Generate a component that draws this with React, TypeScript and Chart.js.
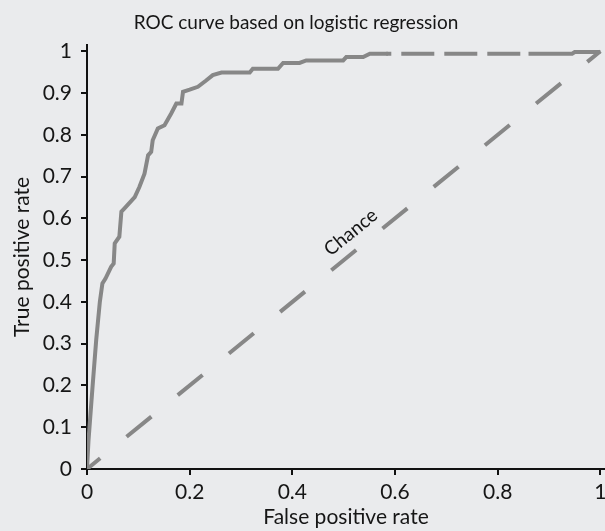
import React, { useEffect, useRef } from "react";
import { Chart, registerables } from "chart.js";

Chart.register(...registerables);

const TITLE = "ROC curve based on logistic regression";
const X_TITLE = "False positive rate";
const Y_TITLE = "True positive rate";
const CHANCE_LABEL = "Chance";

const X_TICKS = [0, 0.2, 0.4, 0.6, 0.8, 1];
const Y_TICKS = [0, 0.1, 0.2, 0.3, 0.4, 0.5, 0.6, 0.7, 0.8, 0.9, 1];

// ROC curve (solid part)
const ROC_FPR = [
  0, 0.003, 0.011, 0.018, 0.025, 0.03, 0.036, 0.047, 0.052, 0.054, 0.063, 0.067, 0.073,
  0.093, 0.102, 0.112, 0.119, 0.125, 0.128, 0.138, 0.151, 0.164, 0.174, 0.184, 0.187,
  0.2, 0.216, 0.232, 0.245, 0.262, 0.317, 0.323, 0.372, 0.382, 0.414, 0.427, 0.499,
  0.505, 0.538, 0.551, 0.586,
];
const ROC_TPR = [
  0, 0.07, 0.2, 0.31, 0.4, 0.444, 0.456, 0.484, 0.492, 0.54, 0.556, 0.616, 0.624,
  0.651, 0.675, 0.707, 0.751, 0.759, 0.787, 0.815, 0.823, 0.851, 0.875, 0.875, 0.903,
  0.908, 0.915, 0.93, 0.943, 0.949, 0.949, 0.958, 0.958, 0.972, 0.972, 0.978, 0.978,
  0.986, 0.986, 0.994, 0.994,
];

// dashed continuation at the top
const TOP_FPR = [0.583, 0.86];
const TOP_TPR = [0.994, 0.994];

// solid tail near (1,1)
const TAIL_FPR = [0.86, 0.945, 0.95, 1];
const TAIL_TPR = [0.994, 0.994, 0.998, 0.998];

// chance diagonal
const CHANCE_FPR = [0, 1];
const CHANCE_TPR = [0, 1];
const CHANCE_LABEL_AT = 0.5;

const GRAY = "#878787";
const TEXT = "#161616";
const FONT = "Lato";

const pts = (xs: number[], ys: number[]) => xs.map((x, i) => ({ x, y: ys[i] }));

const textPlugin = {
  id: "textPlugin",
  afterDraw(chart: any) {
    const xs = chart.scales.x;
    const ys = chart.scales.y;
    const ctx = chart.ctx;
    // title
    ctx.save();
    ctx.font = `19px ${FONT}`;
    ctx.fillStyle = TEXT;
    ctx.textAlign = "center";
    ctx.textBaseline = "alphabetic";
    ctx.fillText(TITLE, 296, 29);
    ctx.restore();
    // chance label
    const x0 = xs.getPixelForValue(0);
    const y0 = ys.getPixelForValue(0);
    const x1 = xs.getPixelForValue(1);
    const y1 = ys.getPixelForValue(1);
    const ang = Math.atan2(y1 - y0, x1 - x0);
    const px = xs.getPixelForValue(CHANCE_LABEL_AT);
    const py = ys.getPixelForValue(CHANCE_LABEL_AT);
    ctx.save();
    ctx.translate(px, py);
    ctx.rotate(ang);
    ctx.font = `19px ${FONT}`;
    ctx.fillStyle = TEXT;
    ctx.textAlign = "center";
    ctx.textBaseline = "middle";
    ctx.fillText(CHANCE_LABEL, 23, -17);
    ctx.restore();
  },
};

const fmt = (v: any) => String(v);

export default function App() {
  const ref = useRef<HTMLCanvasElement>(null);
  useEffect(() => {
    const canvas = ref.current!;
    const chart = new Chart(canvas, {
      type: "scatter",
      data: {
        datasets: [
          {
            data: pts(CHANCE_FPR, CHANCE_TPR),
            showLine: true,
            borderColor: GRAY,
            borderWidth: 4,
            borderDash: [32, 34],
            borderDashOffset: 15,
            pointRadius: 0,
          },
          {
            data: pts(TOP_FPR, TOP_TPR),
            showLine: true,
            borderColor: GRAY,
            borderWidth: 4,
            borderDash: [33, 10],
            borderDashOffset: 28,
            pointRadius: 0,
          },
          {
            data: pts(TAIL_FPR, TAIL_TPR),
            showLine: true,
            borderColor: GRAY,
            borderWidth: 4,
            pointRadius: 0,
          },
          {
            data: pts(ROC_FPR, ROC_TPR),
            showLine: true,
            borderColor: GRAY,
            borderWidth: 4,
            pointRadius: 0,
          },
        ],
      },
      options: {
        responsive: false,
        animation: false,
        layout: { padding: { top: 45, left: 0, right: 0, bottom: 0 } },
        plugins: {
          legend: { display: false },
          tooltip: { enabled: false },
          title: { display: false },
        },
        scales: {
          x: {
            type: "linear",
            min: 0,
            max: 1.009,
            afterBuildTicks: (s: any) => {
              s.ticks = X_TICKS.map((v) => ({ value: v }));
            },
            afterFit: (s: any) => {
              s.height = 62;
              s.paddingLeft = 0;
              s.paddingRight = 0;
            },
            ticks: {
              color: TEXT,
              font: { family: FONT, size: 21 },
              padding: 5,
              maxRotation: 0,
              autoSkip: false,
              callback: fmt,
            },
            grid: {
              display: true,
              drawOnChartArea: false,
              drawTicks: true,
              tickLength: 6,
              color: "#111",
              lineWidth: 2,
            },
            border: { display: true, color: "#111", width: 2 },
            title: {
              display: true,
              text: X_TITLE,
              color: TEXT,
              font: { family: FONT, size: 21 },
              padding: { top: 0, bottom: 1 },
            },
          },
          y: {
            type: "linear",
            min: 0,
            max: 1.015,
            afterBuildTicks: (s: any) => {
              s.ticks = Y_TICKS.map((v) => ({ value: v }));
            },
            afterFit: (s: any) => {
              s.width = 87;
              s.paddingTop = 0;
              s.paddingBottom = 0;
            },
            ticks: {
              color: TEXT,
              font: { family: FONT, size: 21 },
              padding: 9,
              autoSkip: false,
              callback: fmt,
            },
            grid: {
              display: true,
              drawOnChartArea: false,
              drawTicks: true,
              tickLength: 6,
              color: "#111",
              lineWidth: 2,
            },
            border: { display: true, color: "#111", width: 2 },
            title: {
              display: true,
              text: Y_TITLE,
              color: TEXT,
              font: { family: FONT, size: 21 },
              padding: { top: 10, bottom: 0 },
            },
          },
        },
      },
      plugins: [textPlugin],
    });
    return () => chart.destroy();
  }, []);
  return (
    <div
      style={{
        position: "fixed",
        left: 0,
        top: 0,
        width: 605,
        height: 531,
        background: "#eaebed",
      }}
    >
      <canvas ref={ref} width={605} height={531} style={{ display: "block" }} />
    </div>
  );
}
